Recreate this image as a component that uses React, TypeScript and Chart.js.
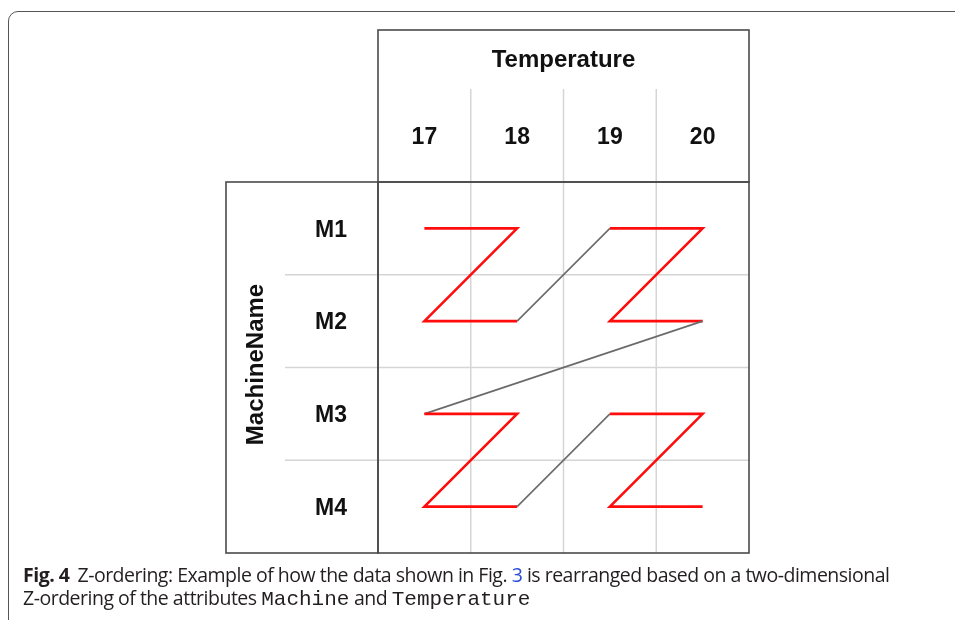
import React, { useEffect, useLayoutEffect, useRef } from "react";
import { Chart, registerables } from "chart.js";

Chart.register(...registerables);

// ---- data ----
const temperatures = ["17", "18", "19", "20"];
const machines = ["M1", "M2", "M3", "M4"];
// Z-order traversal of the (Temperature, Machine) cells
const zOrderTemperature = ["17", "18", "17", "18", "19", "20", "19", "20", "17", "18", "17", "18", "19", "20", "19", "20"];
const zOrderMachine = ["M1", "M1", "M2", "M2", "M1", "M1", "M2", "M2", "M3", "M3", "M4", "M4", "M3", "M3", "M4", "M4"];
// which 2x2 Z-block each visited cell belongs to
const zBlock = [1, 1, 1, 1, 2, 2, 2, 2, 3, 3, 3, 3, 4, 4, 4, 4];
const xAxisTitle = "Temperature";
const yAxisTitle = "MachineName";

const RED = "#ff0d0d";
const JUMP = "#6b6b6b";
const GRID = "#d5d5d5";
const BORDER = "#4a4a4a";
const LABEL_FONT = "'Liberation Sans', Arial, sans-serif";

const framePlugin = {
  id: "zframe",
  beforeDatasetsDraw(chart: any) {
    const { ctx, chartArea: a, scales } = chart;
    const xs = scales.x;
    const ys = scales.y;
    const headerTop = 30;
    const headerGridTop = 89;
    const leftBoxLeft = 226;
    const leftGridLeft = 285;
    ctx.save();
    ctx.strokeStyle = GRID;
    ctx.lineWidth = 1.5;
    for (let i = 0; i < temperatures.length - 1; i++) {
      const x = (xs.getPixelForValue(i) + xs.getPixelForValue(i + 1)) / 2;
      ctx.beginPath();
      ctx.moveTo(x, headerGridTop);
      ctx.lineTo(x, a.bottom);
      ctx.stroke();
    }
    for (let i = 0; i < machines.length - 1; i++) {
      const y = (ys.getPixelForValue(i) + ys.getPixelForValue(i + 1)) / 2;
      ctx.beginPath();
      ctx.moveTo(leftGridLeft, y);
      ctx.lineTo(a.right, y);
      ctx.stroke();
    }

    // labels
    ctx.fillStyle = "#111";
    ctx.textAlign = "center";
    ctx.textBaseline = "alphabetic";
    ctx.font = `bold 24px ${LABEL_FONT}`;
    ctx.fillText(xAxisTitle, (a.left + a.right) / 2, 67);
    ctx.font = `bold 23px ${LABEL_FONT}`;
    temperatures.forEach((t, i) => {
      ctx.fillText(t, xs.getPixelForValue(i), 144);
    });
    machines.forEach((m, i) => {
      ctx.fillText(m, 331, ys.getPixelForValue(i) + 8.3);
    });
    ctx.save();
    ctx.translate(262.5, (a.top + a.bottom) / 2 - 3);
    ctx.rotate(-Math.PI / 2);
    ctx.font = `bold 24px ${LABEL_FONT}`;
    ctx.fillText(yAxisTitle, 0, 0);
    ctx.restore();

    // boxes
    ctx.strokeStyle = BORDER;
    ctx.lineWidth = 1.6;
    ctx.strokeRect(a.left, headerTop, a.right - a.left, a.top - headerTop);
    ctx.strokeRect(leftBoxLeft, a.top, a.left - leftBoxLeft, a.bottom - a.top);
    ctx.strokeRect(a.left, a.top, a.right - a.left, a.bottom - a.top);
    ctx.restore();
  },
};

export default function App() {
  const canvasRef = useRef<HTMLCanvasElement | null>(null);
  const line1Ref = useRef<HTMLDivElement | null>(null);
  const line2Ref = useRef<HTMLDivElement | null>(null);

  useEffect(() => {
    if (!canvasRef.current) return;
    const data = zOrderTemperature.map((t, i) => ({ x: t, y: zOrderMachine[i] }));
    const chart = new Chart(canvasRef.current, {
      type: "line",
      data: {
        datasets: [
          {
            data: data as any,
            borderColor: RED,
            borderWidth: 2.6,
            pointRadius: 0,
            tension: 0,
            fill: false,
            borderJoinStyle: "miter",
            borderCapStyle: "butt",
            segment: {
              borderColor: (c: any) => (zBlock[c.p0DataIndex] === zBlock[c.p1DataIndex] ? RED : JUMP),
              borderWidth: (c: any) => (zBlock[c.p0DataIndex] === zBlock[c.p1DataIndex] ? 2.6 : 1.6),
            } as any,
          },
        ],
      },
      options: {
        animation: false,
        responsive: false,
        maintainAspectRatio: false,
        events: [],
        layout: { padding: { left: 378, top: 182, right: 206, bottom: 67 } },
        plugins: {
          legend: { display: false },
          tooltip: { enabled: false },
          title: { display: false },
        },
        scales: {
          x: { type: "category", labels: temperatures, offset: true, display: false },
          y: { type: "category", labels: machines, offset: true, display: false },
        },
      },
      plugins: [framePlugin],
    });
    return () => chart.destroy();
  }, []);

  useLayoutEffect(() => {
    const l1 = line1Ref.current;
    const l2 = line2Ref.current;
    if (!l1 || !l2) return;
    l1.style.letterSpacing = "0px";
    const w = l1.getBoundingClientRect().width;
    const n = (l1.textContent || "").length;
    const ls = (866 - w) / n;
    l1.style.letterSpacing = `${ls}px`;
    l2.style.letterSpacing = `${ls}px`;
  }, []);

  const sans: React.CSSProperties = {
    position: "absolute",
    left: 23,
    fontFamily: "'Open Sans', 'Noto Sans', sans-serif",
    fontSize: 19.5,
    lineHeight: "1",
    color: "#231f20",
    whiteSpace: "nowrap",
  };
  const mono: React.CSSProperties = {
    fontFamily: "'Liberation Mono', 'DejaVu Sans Mono', monospace",
    fontSize: 21,
    letterSpacing: 0,
  };

  return (
    <div style={{ position: "absolute", left: 0, top: 0, width: 955, height: 620, overflow: "hidden", background: "#fff" }}>
      <div
        style={{
          position: "absolute",
          left: 7.5,
          top: 10.5,
          width: 1100,
          height: 700,
          border: "1.5px solid #555",
          borderRadius: 10,
          boxSizing: "border-box",
        }}
      />
      <canvas ref={canvasRef} width={955} height={620} style={{ position: "absolute", left: 0, top: 0, width: 955, height: 620 }} />
      <div ref={line1Ref} style={{ ...sans, top: 564.5, display: "inline-block" }}>
        <span style={{ fontWeight: 700 }}>Fig. 4</span>
        <span style={{ display: "inline-block", width: 8 }}> </span>
        Z-ordering: Example of how the data shown in Fig. <span style={{ color: "#2d4fd8" }}>3</span> is rearranged based on a two-dimensional
      </div>
      <div ref={line2Ref} style={{ ...sans, top: 587.5 }}>
        Z-ordering of the attributes <span style={mono}>Machine</span> and <span style={mono}>Temperature</span>
      </div>
    </div>
  );
}
